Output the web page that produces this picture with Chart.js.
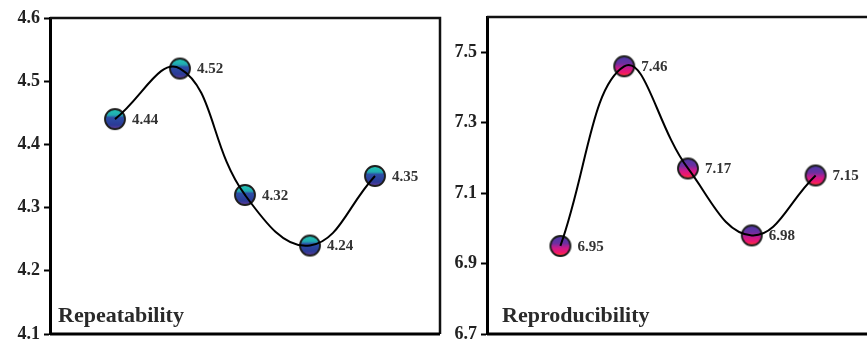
<!DOCTYPE html>
<html>
<head>
<meta charset="utf-8">
<script src="https://cdn.jsdelivr.net/npm/chart.js@4.4.1/dist/chart.umd.min.js"></script>
<style>
  html, body { margin: 0; padding: 0; background: #fff; overflow: hidden; }
  body { width: 867px; height: 340px; position: relative; }
  .panel { position: absolute; top: 0; height: 345px; }
  #left { left: 0; width: 451px; }
  #right { left: 440px; width: 460px; }
</style>
</head>
<body>
<div class="panel" id="left"><canvas id="chart1" width="451" height="345"></canvas></div>
<div class="panel" id="right"><canvas id="chart2" width="460" height="345"></canvas></div>
<script>
// data
const positions = [1, 2, 3, 4, 5];
const repeatability = [4.44, 4.52, 4.32, 4.24, 4.35];
const reproducibility = [6.95, 7.46, 7.17, 6.98, 7.15];
const repeatTicks = [4.1, 4.2, 4.3, 4.4, 4.5, 4.6];
const reproTicks = [6.7, 6.9, 7.1, 7.3, 7.5];

const SERIF = '"Liberation Serif", "Times New Roman", serif';
Chart.defaults.font.family = SERIF;

// small sphere-like marker used as pointStyle
function makeMarker(stops) {
  const c = document.createElement('canvas');
  c.width = 26;
  c.height = 26;
  const g = c.getContext('2d');
  const grad = g.createLinearGradient(0, 3, 0, 23);
  stops.forEach(s => grad.addColorStop(s[0], s[1]));
  g.shadowColor = 'rgba(0,0,0,0.55)';
  g.shadowBlur = 2;
  g.beginPath();
  g.arc(13, 13, 10, 0, Math.PI * 2);
  g.fillStyle = grad;
  g.fill();
  g.shadowBlur = 0;
  g.lineWidth = 1.8;
  g.strokeStyle = '#1e1e1e';
  g.stroke();
  return c;
}

const tealMarker = makeMarker([
  [0, '#22c9b6'], [0.3, '#21aab0'], [0.42, '#2c4ea6'], [0.8, '#2b3a96'], [1, '#6b3c9c'],
]);
const pinkMarker = makeMarker([
  [0, '#4b3aa6'], [0.35, '#6a30a2'], [0.6, '#cc1a8c'], [0.82, '#f0186c'], [1, '#ff4424'],
]);

const framePlugin = {
  id: 'frame',
  beforeDatasetsDraw(chart) {
    const a = chart.chartArea;
    const ctx = chart.ctx;
    ctx.save();
    ctx.strokeStyle = '#111';
    ctx.lineWidth = 2.5;
    ctx.beginPath();
    ctx.moveTo(a.left, a.top);
    ctx.lineTo(a.right, a.top);
    ctx.lineTo(a.right, a.bottom);
    ctx.stroke();
    ctx.lineWidth = 3;
    ctx.strokeStyle = '#000';
    ctx.beginPath();
    ctx.moveTo(a.left, a.bottom);
    ctx.lineTo(a.right, a.bottom);
    ctx.stroke();
    ctx.restore();
  },
};

const labelPlugin = {
  id: 'pointLabels',
  afterDatasetsDraw(chart, args, opts) {
    const ctx = chart.ctx;
    const meta = chart.getDatasetMeta(1);
    const values = chart.data.datasets[1].data;
    ctx.save();
    ctx.fillStyle = '#333';
    ctx.font = 'bold 15px ' + SERIF;
    ctx.textAlign = 'left';
    ctx.textBaseline = 'middle';
    meta.data.forEach((pt, i) => {
      ctx.fillText(values[i].y.toFixed(2), pt.x + 17, pt.y + 1);
    });
    // panel name in the lower left corner
    const a = chart.chartArea;
    ctx.fillStyle = '#2a2a2a';
    ctx.font = 'bold 22px ' + SERIF;
    ctx.textBaseline = 'alphabetic';
    ctx.fillText(opts.title, a.left + opts.titleX, a.bottom - 12);
    ctx.restore();
  },
};

function makeChart(id, values, ticks, yMin, yMax, xMin, xMax, marker, title, titleX, axisWidth, pad) {
  const points = values.map((v, i) => ({ x: positions[i], y: v }));
  const ctx = document.getElementById(id).getContext('2d');
  return new Chart(ctx, {
    type: 'line',
    data: {
      datasets: [
        {
          data: points,
          borderColor: '#000',
          borderWidth: 2,
          tension: 0.42,
          pointRadius: 0,
          fill: false,
          order: 0,
        },
        {
          data: points,
          showLine: false,
          pointStyle: marker,
          pointRadius: 10,
          order: 1,
        },
      ],
    },
    options: {
      responsive: false,
      animation: false,
      layout: { padding: pad },
      plugins: {
        legend: { display: false },
        tooltip: { enabled: false },
        pointLabels: { title, titleX },
      },
      scales: {
        x: { type: 'linear', min: xMin, max: xMax, display: false },
        y: {
          min: yMin,
          max: yMax,
          afterBuildTicks: s => { s.ticks = ticks.map(v => ({ value: v })); },
          afterFit: s => {
            s.width = axisWidth;
            s.paddingTop = 0;
            s.paddingBottom = 0;
          },
          grid: {
            drawOnChartArea: false,
            drawTicks: true,
            tickLength: 6,
            tickWidth: 2,
            color: '#000',
          },
          border: { display: true, width: 3, color: '#000' },
          ticks: {
            padding: 4,
            color: '#222',
            font: { size: 18, weight: 'bold' },
            callback: v => Number(v).toFixed(1),
          },
        },
      },
    },
    plugins: [framePlugin, labelPlugin],
  });
}

makeChart('chart1', repeatability, repeatTicks, 4.1, 4.6, 0, 6, tealMarker,
  'Repeatability', 8, 50, { top: 18, right: 4, bottom: 2, left: 0 });
makeChart('chart2', reproducibility, reproTicks, 6.7, 7.6, -0.15, 6.15, pinkMarker,
  'Reproducibility', 15, 47, { top: 17, right: 0, bottom: 2, left: 0 });
</script>
</body>
</html>
